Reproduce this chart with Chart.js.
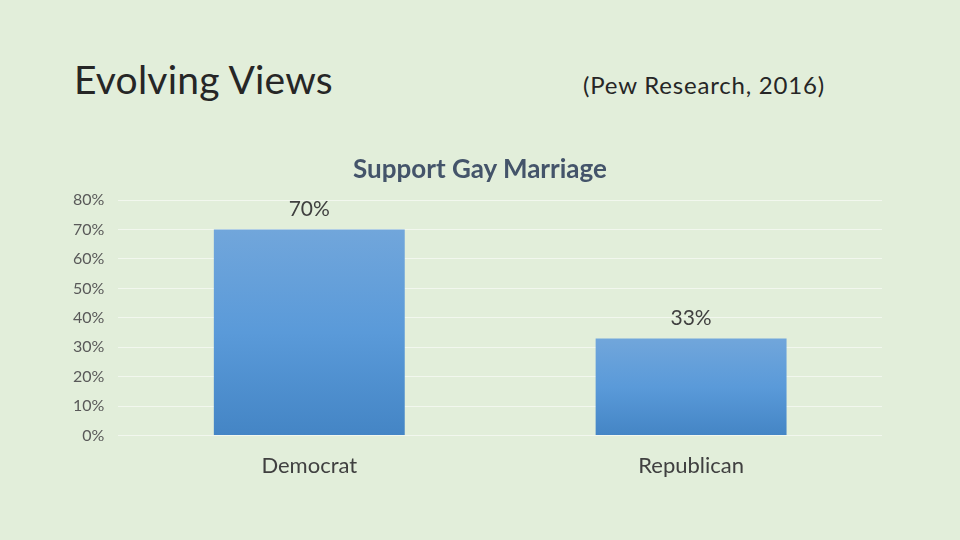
<!DOCTYPE html>
<html lang="en">
<head>
    <meta charset="UTF-8">
    <title>Evolving Views</title>
    <script src="https://cdn.jsdelivr.net/npm/chart.js"></script>
    <style>
        * {
            box-sizing: border-box;
            margin: 0;
            padding: 0;
        }

        body {
            width: 960px;
            height: 540px;
            background-color: #e2eeda;
            font-family: Lato, "Open Sans", sans-serif;
            position: relative;
            overflow: hidden;
        }

        .slide-title {
            position: absolute;
            left: 74px;
            top: 56px;
            font-size: 39px;
            color: #262626;
            letter-spacing: 0.2px;
        }

        .slide-source {
            position: absolute;
            left: 583px;
            top: 70px;
            font-size: 24px;
            color: #262626;
            letter-spacing: 0.8px;
        }

        .chart-title {
            position: absolute;
            left: 280px;
            width: 400px;
            top: 152px;
            text-align: center;
            font-size: 26px;
            font-weight: bold;
            color: #44546a;
        }

        .chart-box {
            position: absolute;
            left: 0;
            top: 0;
            width: 960px;
            height: 540px;
        }
    </style>
</head>
<body>
    <div class="slide-title">Evolving Views</div>
    <div class="slide-source">(Pew Research, 2016)</div>
    <div class="chart-box">
        <canvas id="supportChart"></canvas>
    </div>
    <div class="chart-title">Support Gay Marriage</div>

    <script>
        // Chart data
        const categories = ['Democrat', 'Republican'];
        const supportValues = [70, 33];
        const yTicks = [0, 10, 20, 30, 40, 50, 60, 70, 80];

        // bar fill: light blue at the top, deeper blue at the base
        function barGradient(ctx) {
            const chart = ctx.chart;
            const area = chart.chartArea;
            if (!area) return '#5b9bd5';
            const yScale = chart.scales.y;
            const top = yScale.getPixelForValue(supportValues[ctx.dataIndex]);
            const bottom = yScale.getPixelForValue(0);
            const g = chart.ctx.createLinearGradient(0, top, 0, bottom);
            g.addColorStop(0, '#71a6db');
            g.addColorStop(0.5, '#5a9ad9');
            g.addColorStop(1, '#4485c5');
            return g;
        }

        // value labels above each bar
        const valueLabels = {
            id: 'valueLabels',
            afterDatasetsDraw(chart) {
                const ctx = chart.ctx;
                const meta = chart.getDatasetMeta(0);
                ctx.save();
                ctx.font = '21px Lato, "Open Sans", sans-serif';
                ctx.fillStyle = '#404040';
                ctx.textAlign = 'center';
                ctx.textBaseline = 'middle';
                meta.data.forEach((bar, i) => {
                    ctx.fillText(supportValues[i] + '%', bar.x, bar.y - 20);
                });
                ctx.restore();
            }
        };

        const ctx = document.getElementById('supportChart').getContext('2d');
        new Chart(ctx, {
            type: 'bar',
            data: {
                labels: categories,
                datasets: [{
                    data: supportValues,
                    backgroundColor: barGradient,
                    borderWidth: 0,
                    barPercentage: 0.5,
                    categoryPercentage: 1
                }]
            },
            options: {
                responsive: true,
                maintainAspectRatio: false,
                animation: false,
                layout: {
                    padding: { left: 59, right: 78, top: 200, bottom: 52 }
                },
                scales: {
                    x: {
                        grid: { display: false },
                        border: { display: false },
                        ticks: {
                            color: '#404040',
                            font: { family: 'Lato, "Open Sans", sans-serif', size: 22 },
                            padding: 9
                        }
                    },
                    y: {
                        min: 0,
                        max: 80,
                        afterBuildTicks(scale) {
                            scale.ticks = yTicks.map(v => ({ value: v }));
                        },
                        grid: {
                            color: 'rgba(255, 255, 255, 0.55)',
                            drawTicks: false
                        },
                        border: { display: false },
                        ticks: {
                            color: '#595959',
                            font: { family: 'Lato, "Open Sans", sans-serif', size: 16 },
                            padding: 14,
                            callback: v => v + '%'
                        }
                    }
                },
                plugins: {
                    legend: { display: false },
                    tooltip: { enabled: false },
                    title: { display: false }
                }
            },
            plugins: [valueLabels]
        });
    </script>
</body>
</html>
